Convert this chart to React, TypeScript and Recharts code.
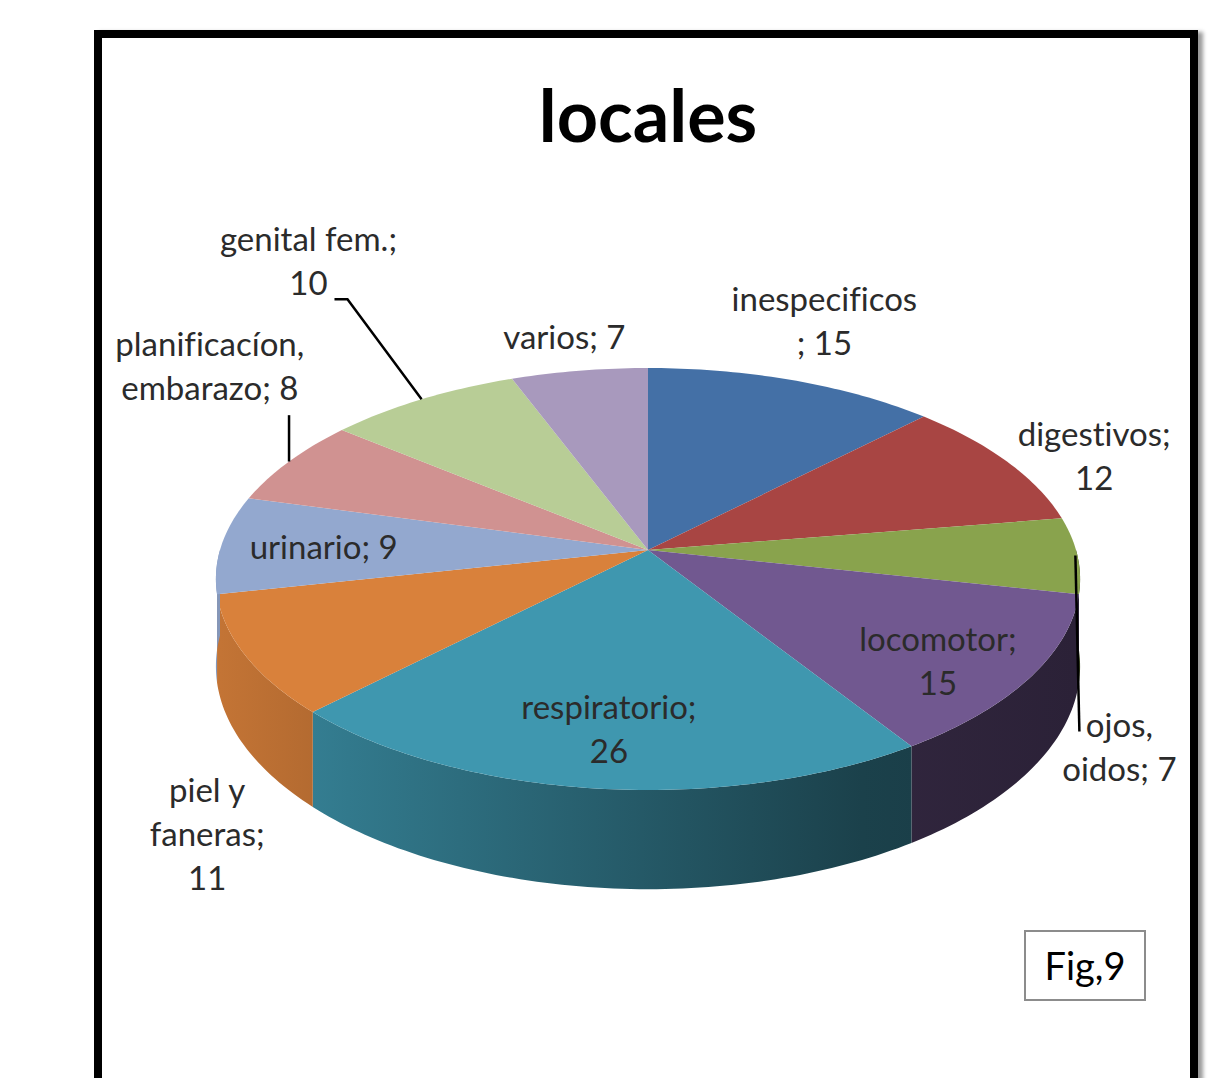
import { PieChart, Pie } from "recharts";

// slices, clockwise from 12 o'clock
const CATEGORIES = [
  "inespecificos",
  "digestivos",
  "ojos, oidos",
  "locomotor",
  "respiratorio",
  "piel y faneras",
  "urinario",
  "planificacíon, embarazo",
  "genital fem.",
  "varios",
];
const VALUES = [15, 12, 7, 15, 26, 11, 9, 8, 10, 7];
const COLORS = [
  "#4470a6",
  "#a84543",
  "#89a34d",
  "#715890",
  "#3f97af",
  "#d9813b",
  "#93a8cf",
  "#d09291",
  "#b8cd96",
  "#a899bd",
];
// label text, "|" = line break, {v} = value
const LABEL_TEMPLATES = [
  "inespecificos|; {v}",
  "digestivos;|{v}",
  "ojos,|oidos; {v}",
  "locomotor;|{v}",
  "respiratorio;|{v}",
  "piel y|faneras;|{v}",
  "urinario; {v}",
  "planificacíon,|embarazo; {v}",
  "genital fem.;|{v}",
  "varios; {v}",
];

// label placement: radius factor on the disc + nudge in px
const LABEL_LAYOUT = [
  { r: 1.15, dx: 12, dy: -36, leader: "" },
  { r: 1.15, dx: 37, dy: 8, leader: "" },
  { r: 1.0, dx: 42, dy: 193, leader: "down" },
  { r: 0.8, dx: -11, dy: 12, leader: "" },
  { r: 0.78, dx: 0, dy: 0, leader: "" },
  { r: 1.15, dx: 27, dy: 162, leader: "" },
  { r: 0.76, dx: 0, dy: 2, leader: "" },
  { r: 1.15, dx: -29, dy: -82, leader: "up" },
  { r: 1.15, dx: -83, dy: -117, leader: "elbow" },
  { r: 1.15, dx: -6, dy: -9, leader: "" },
];

const data = CATEGORIES.map((name, i) => ({ name, value: VALUES[i], fill: COLORS[i] }));

const TILT = 0.4836; // vertical squash of the disc
const PERSP = 0.1374; // front bigger than back
const DEPTH = 0.2; // wall height relative to radius
const FONT = "Lato, 'Open Sans', sans-serif";
const FS = 33;
const LH = 44;

// phi: degrees clockwise from top, r: fraction of radius
function project(cx: number, cy: number, R: number, phi: number, r: number) {
  const a = (phi * Math.PI) / 180;
  const u = r * Math.sin(a);
  const v = -r * Math.cos(a);
  const s = 1 / (1 - PERSP * v);
  return { x: cx + R * u * s, y: cy + R * TILT * v * s, s };
}

function shade(hex: string, f: number) {
  const n = parseInt(hex.slice(1), 16);
  const c = [(n >> 16) & 255, (n >> 8) & 255, n & 255].map((x) => Math.round(x * f));
  return `rgb(${c[0]},${c[1]},${c[2]})`;
}

function arcPoints(cx: number, cy: number, R: number, p1: number, p2: number) {
  const pts: { x: number; y: number; s: number }[] = [];
  const steps = Math.max(2, Math.ceil(Math.abs(p2 - p1)));
  for (let k = 0; k <= steps; k++) {
    pts.push(project(cx, cy, R, p1 + ((p2 - p1) * k) / steps, 1));
  }
  return pts;
}

function Slice3D(props: any) {
  const { cx, cy, outerRadius, startAngle, endAngle, fill } = props;
  const R = outerRadius;
  const p1 = 90 - startAngle;
  const p2 = 90 - endAngle;
  const top = arcPoints(cx, cy, R, p1, p2);
  const topPath =
    `M${cx},${cy} ` + top.map((p) => `L${p.x.toFixed(2)},${p.y.toFixed(2)}`).join(" ") + " Z";

  // front wall, only where the rim faces the viewer
  const w1 = Math.max(p1, 90);
  const w2 = Math.min(p2, 270);
  let wallPath = "";
  if (w2 > w1) {
    const rim = arcPoints(cx, cy, R, w1, w2);
    const upper = rim.map((p) => `${p.x.toFixed(2)},${p.y.toFixed(2)}`);
    const lower = rim
      .slice()
      .reverse()
      .map((p) => `${p.x.toFixed(2)},${(p.y + R * DEPTH * p.s).toFixed(2)}`);
    wallPath = "M" + upper.join(" L") + " L" + lower.join(" L") + " Z";
  }
  const gid = `wall-${String(fill).replace("#", "")}`;

  return (
    <g>
      <defs>
        <linearGradient id={gid} gradientUnits="userSpaceOnUse" x1={cx - R} y1={0} x2={cx + R} y2={0}>
          <stop offset="0" stopColor={shade(fill, 0.9)} />
          <stop offset="0.15" stopColor={shade(fill, 0.8)} />
          <stop offset="0.75" stopColor={shade(fill, 0.43)} />
          <stop offset="1" stopColor={shade(fill, 0.38)} />
        </linearGradient>
      </defs>
      {wallPath && <path d={wallPath} fill={`url(#${gid})`} />}
      <path d={topPath} fill={fill} />
    </g>
  );
}

function renderLabel(props: any) {
  const { cx, cy, outerRadius, midAngle } = props;
  const i = props.index ?? CATEGORIES.indexOf(props.name);
  const lay = LABEL_LAYOUT[i];
  const phi = 90 - midAngle;
  const base = project(cx, cy, outerRadius, phi, lay.r);
  const edge = project(cx, cy, outerRadius, phi, 1);
  const x = base.x + lay.dx;
  const y = base.y + lay.dy;
  const lines = LABEL_TEMPLATES[i].replace("{v}", String(VALUES[i])).split("|");
  const first = y - ((lines.length - 1) * LH) / 2 + FS * 0.33;

  let leader: string | null = null;
  if (lay.leader === "down") leader = `${edge.x - 2},${edge.y} ${edge.x + 2},${y - 17}`;
  if (lay.leader === "up") leader = `${edge.x},${edge.y} ${edge.x},${y + 48}`;
  if (lay.leader === "elbow")
    leader = `${edge.x},${edge.y} ${x + 39},${y + 37} ${x + 26},${y + 37}`;

  return (
    <g key={`lbl-${i}`}>
      {leader && <polyline points={leader} fill="none" stroke="#000" strokeWidth={2.5} />}
      <text
        x={x}
        textAnchor="middle"
        fontFamily={FONT}
        fontSize={FS}
        fill="#2b2b2b"
        style={{ fontVariantLigatures: "none" }}
      >
        {lines.map((t, k) => (
          <tspan key={k} x={x} y={first + k * LH}>
            {t}
          </tspan>
        ))}
      </text>
    </g>
  );
}

export default function App() {
  return (
    <div
      style={{
        position: "absolute",
        left: 0,
        top: 0,
        width: 1218,
        height: 1078,
        overflow: "hidden",
        background: "#fff",
      }}
    >
      {/* frame */}
      <div
        style={{
          position: "absolute",
          left: 94,
          top: 30,
          width: 1104,
          height: 1100,
          boxSizing: "border-box",
          border: "8px solid #000",
          boxShadow: "5px 2px 4px rgba(0,0,0,0.4)",
        }}
      />
      <div
        style={{
          position: "absolute",
          left: 0,
          width: 1296,
          top: 72,
          textAlign: "center",
          fontFamily: FONT,
          fontWeight: 700,
          fontSize: 72,
          lineHeight: "84px",
          color: "#000",
        }}
      >
        locales
      </div>
      <div style={{ position: "absolute", left: 0, top: 0 }}>
        <PieChart width={1218} height={1078} margin={{ top: 0, right: 0, bottom: 0, left: 0 }}>
          <Pie
            data={data}
            dataKey="value"
            nameKey="name"
            cx={648}
            cy={550}
            outerRadius={428}
            startAngle={90}
            endAngle={-270}
            stroke="none"
            shape={Slice3D}
            inactiveShape={Slice3D}
            activeShape={Slice3D}
            label={renderLabel}
            labelLine={false}
            isAnimationActive={false}
          />
        </PieChart>
      </div>
      {/* figure tag */}
      <div
        style={{
          position: "absolute",
          left: 1024,
          top: 930,
          width: 122,
          height: 71,
          boxSizing: "border-box",
          border: "2px solid #8c8c8c",
          fontFamily: FONT,
          fontSize: 38,
          lineHeight: "67px",
          textAlign: "center",
          color: "#000",
        }}
      >
        Fig,9
      </div>
    </div>
  );
}
